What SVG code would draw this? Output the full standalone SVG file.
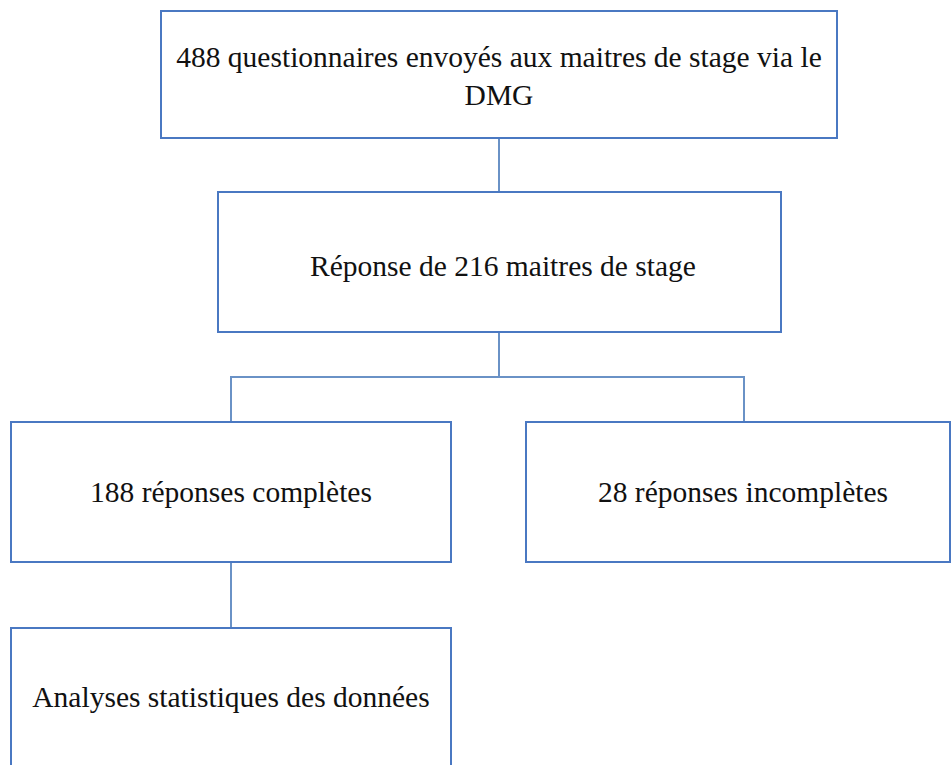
<svg xmlns="http://www.w3.org/2000/svg" width="951" height="765" viewBox="0 0 951 765">
<style>
.box{fill:#ffffff;stroke:#4A78C2;stroke-width:2}
.t{font-family:"Liberation Serif","Times New Roman",serif;font-size:29.5px;fill:#111;text-anchor:middle}
.c{fill:none;stroke:#6A92C6;stroke-width:2}
</style>
<rect width="951" height="765" fill="#ffffff"/>
<g id="connectors">
<line class="c" x1="499" y1="138" x2="499" y2="192"/>
<polyline class="c" points="231,422 231,377 744,377 744,422"/>
<line class="c" x1="499" y1="332" x2="499" y2="377"/>
<line class="c" x1="231" y1="562" x2="231" y2="628"/>
</g>
<g id="n1">
<rect class="box" x="161" y="11" width="676" height="127"/>
<text class="t" x="499" y="67">488 questionnaires envoyés aux maitres de stage via le</text>
<text class="t" x="499" y="105">DMG</text>
</g>
<g id="n2">
<rect class="box" x="218" y="192" width="563" height="140"/>
<text class="t" x="503" y="276">Réponse de 216 maitres de stage</text>
</g>
<g id="n3">
<rect class="box" x="11" y="422" width="440" height="140"/>
<text class="t" x="231" y="502">188 réponses complètes</text>
</g>
<g id="n4">
<rect class="box" x="526" y="422" width="424" height="140"/>
<text class="t" x="743" y="502">28 réponses incomplètes</text>
</g>
<g id="n5">
<rect class="box" x="11" y="628" width="440" height="150"/>
<text class="t" x="231" y="707">Analyses statistiques des données</text>
</g>
</svg>
